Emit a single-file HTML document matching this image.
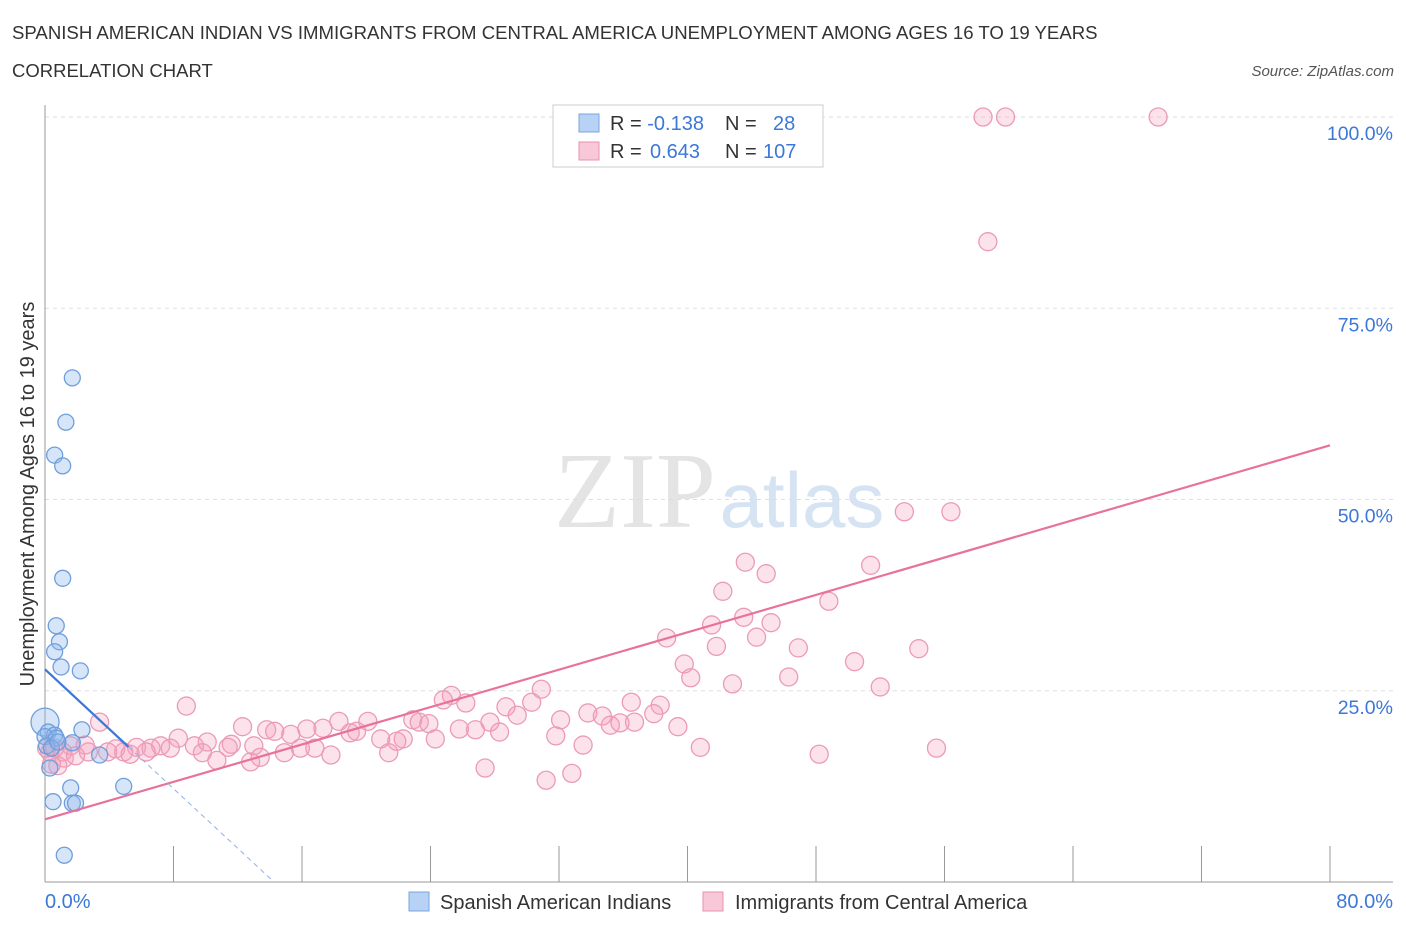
<!DOCTYPE html>
<html><head><meta charset="utf-8"><style>
body{margin:0;background:#fff;font-family:"Liberation Sans",sans-serif;overflow:hidden;}
svg{display:block}
</style></head><body>
<svg id="chart" width="1406" height="930" viewBox="0 0 1406 930">
<text x="12" y="39" font-size="18.6" fill="#333">SPANISH AMERICAN INDIAN VS IMMIGRANTS FROM CENTRAL AMERICA UNEMPLOYMENT AMONG AGES 16 TO 19 YEARS</text>
<text x="12" y="77" font-size="18.5" fill="#333">CORRELATION CHART</text>
<text x="1394" y="76" font-size="15" fill="#555" font-style="italic" text-anchor="end">Source: ZipAtlas.com</text>
<text x="635" y="527" font-size="108" fill="#e4e4e4" font-family="Liberation Serif,serif" text-anchor="middle">ZIP</text>
<text x="802" y="527" font-size="78" fill="#d5e3f3" text-anchor="middle">atlas</text>
<g id="grid"></g>
<g id="axes"></g>
<g id="pts"></g>
<g id="lines"></g>
<text transform="translate(34,494) rotate(-90)" font-size="20" fill="#333" text-anchor="middle">Unemployment Among Ages 16 to 19 years</text>
<text x="45" y="908" font-size="20" fill="#3b78d8">0.0%</text>
<text x="1393" y="908" font-size="20" fill="#3b78d8" text-anchor="end">80.0%</text>
<g>
<rect x="553" y="105" width="270" height="62" fill="#fff" stroke="#ccc"/>
<rect x="579" y="114" width="20" height="18" fill="#b7d2f5" stroke="#7aa6e0"/>
<rect x="579" y="142" width="20" height="18" fill="#f9c8d8" stroke="#e891ae"/>
<text x="610" y="130" font-size="20" fill="#333">R = <tspan fill="#3b78d8">-0.138</tspan><tspan x="725">N = </tspan><tspan x="773" fill="#3b78d8">28</tspan></text>
<text x="610" y="158" font-size="20" fill="#333">R = <tspan x="650" fill="#3b78d8">0.643</tspan><tspan x="725">N = </tspan><tspan x="763" fill="#3b78d8">107</tspan></text>
</g>
<g>
<rect x="409" y="892" width="20" height="19" fill="#b7d2f5" stroke="#7aa6e0"/>
<text x="440" y="909" font-size="20" fill="#333">Spanish American Indians</text>
<rect x="703" y="892" width="20" height="19" fill="#f9c8d8" stroke="#e891ae"/>
<text x="735" y="909" font-size="20" fill="#333">Immigrants from Central America</text>
</g>
</svg>
<script>
const yTicks=[25,50,75,100];
const yTickLabels=["25.0%","50.0%","75.0%","100.0%"];
const xTicks=[0,8,16,24,32,40,48,56,64,72,80];
const pinkX=[58.4,59.8,69.3,58.7,53.5,56.4,51.4,43.6,44.9,42.2,48.8,38.7,41.5,43.5,45.2,44.3,41.8,46.9,54.4,39.8,40.2,50.4,46.3,42.8,52.0,30.9,25.3,24.8,26.2,30.3,28.7,8.8,36.5,38.3,33.8,34.7,29.4,37.9,3.4,18.3,20.1,22.9,23.3,23.9,32.1,35.2,35.8,36.7,27.7,25.8,26.8,28.3,17.3,12.3,13.8,14.3,15.3,16.3,19.0,19.4,39.4,31.8,20.9,22.3,21.9,24.3,8.3,10.1,11.6,9.3,13.0,5.7,7.2,6.6,7.8,11.4,15.9,16.8,17.8,21.4,4.4,4.9,3.9,2.5,2.7,5.3,6.3,1.6,1.1,0.6,0.3,1.2,1.9,10.7,12.8,13.4,14.9,9.8,40.8,33.5,48.2,55.5,27.4,32.8,31.2,0.8,0.4,0.1];
const pinkY=[100,100,100,83.7,48.4,48.4,41.4,41.8,40.3,38.0,36.7,31.9,33.6,34.6,33.9,32.0,30.8,30.6,30.5,28.5,26.7,28.8,26.8,25.9,25.5,25.2,24.4,23.8,23.4,23.5,22.9,23.0,23.5,23.1,22.1,21.7,21.8,22.0,20.9,21.0,21.0,21.2,20.9,20.7,21.2,20.5,20.8,20.9,20.9,20.0,19.9,19.6,20.1,20.3,19.9,19.7,19.3,20.0,19.5,19.7,20.3,19.1,18.7,18.7,18.4,18.7,18.8,18.3,18.0,17.8,17.8,17.6,17.8,17.5,17.5,17.6,17.5,17.5,16.6,16.9,17.4,17.0,17.0,17.9,17.0,16.7,17.0,17.8,17.0,17.5,17.0,16.2,16.5,15.9,15.7,16.3,16.9,16.9,17.6,17.9,16.7,17.5,14.9,14.2,13.3,15.2,15.4,17.5];
const blueX=[1.7,1.3,0.6,1.1,1.1,0.7,0.9,0.6,1.0,2.2,0.0,0.2,0.6,0.0,0.7,1.7,2.3,3.4,4.9,1.7,1.9,0.5,1.2,0.3,0.1,0.4,1.6,0.8];
const blueY=[65.9,60.1,55.8,54.4,39.7,33.5,31.4,30.1,28.1,27.6,20.9,19.6,19.2,19.0,18.8,18.2,19.9,16.6,12.5,10.3,10.3,10.5,3.5,14.9,17.8,17.5,12.3,18.3];
const pinkFit=[8.2,0.611];
const blueFit=[27.8,-1.95];
const X0=45,X1=1330,Y0=882,Y1=117;
const sx=v=>X0+(v/80)*(X1-X0);
const sy=v=>Y0-(v/100)*(Y0-Y1);
const NS="http://www.w3.org/2000/svg";
function mk(t,a,p){const e=document.createElementNS(NS,t);for(const k in a)e.setAttribute(k,a[k]);p.appendChild(e);return e;}
const grid=document.getElementById('grid'),axes=document.getElementById('axes'),pts=document.getElementById('pts'),lines=document.getElementById('lines');
yTicks.forEach((t,i)=>{
 const l=mk('line',{x1:X0,x2:1393,y1:sy(t),y2:sy(t),stroke:'#ddd','stroke-dasharray':'4,4'},grid);
 
 
 const tx=mk('text',{x:1393,y:sy(t)+23,'font-size':19.5,fill:'#3b78d8','text-anchor':'end'},grid);
 tx.textContent=yTickLabels[i];
 
 
});
const ya=mk('line',{x1:X0,x2:X0,y1:105,y2:Y0,stroke:'#999'},axes);


const xa=mk('line',{x1:X0,x2:1393,y1:Y0,y2:Y0,stroke:'#999'},axes);


xTicks.forEach(t=>{
 const l=mk('line',{x1:sx(t),x2:sx(t),y1:Y0-36,y2:Y0,stroke:'#999'},axes);
 
 
});
pinkX.forEach((x,i)=>{
 const c=mk('circle',{cx:sx(x),cy:sy(pinkY[i]),r:9,fill:'rgba(244,160,190,0.3)',stroke:'#eb9bb6','stroke-width':1.3},pts);
 
 
});
blueX.forEach((x,i)=>{
 const c=mk('circle',{cx:sx(x),cy:sy(blueY[i]),r:i==10?14:8,fill:'rgba(140,180,235,0.35)',stroke:'#6f9edc','stroke-width':1.3},pts);
 
 
});
const pl=mk('line',{x1:sx(0),y1:sy(pinkFit[0]),x2:sx(80),y2:sy(pinkFit[0]+pinkFit[1]*80),stroke:'#e8729b','stroke-width':2.2},lines);


const bEnd=5.2,bZero=-blueFit[0]/blueFit[1];
const bl=mk('line',{x1:sx(0),y1:sy(blueFit[0]),x2:sx(bEnd),y2:sy(blueFit[0]+blueFit[1]*bEnd),stroke:'#3b78d8','stroke-width':2.2},lines);


const bd=mk('line',{x1:sx(bEnd),y1:sy(blueFit[0]+blueFit[1]*bEnd),x2:sx(bZero),y2:sy(0),stroke:'#8fb2e6','stroke-width':1,'stroke-dasharray':'5,4'},lines);


</script>
</body></html>
